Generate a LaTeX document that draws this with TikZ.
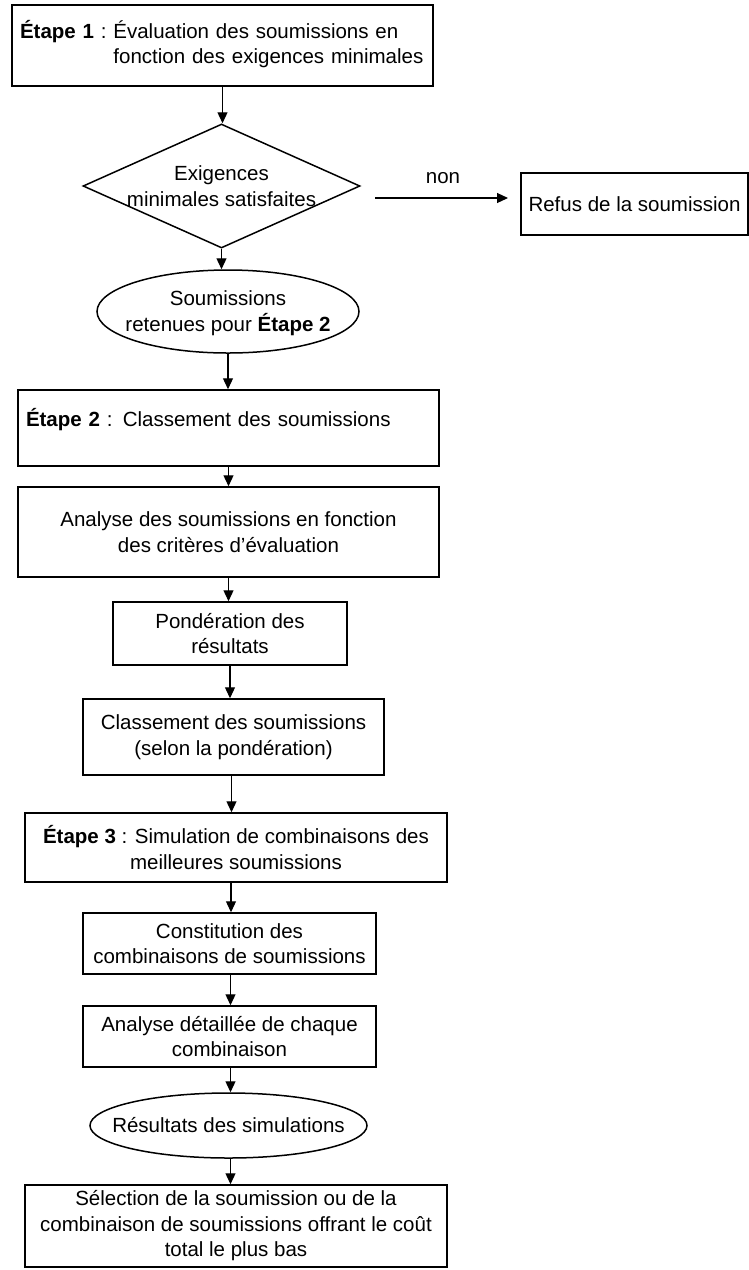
\documentclass[tikz,border=0pt]{standalone}
\usepackage{fontspec}
\setmainfont{Liberation Sans}
\usetikzlibrary{shapes.geometric,arrows.meta}
\begin{document}
\begin{tikzpicture}[x=1pt,y=-1pt,
  every node/.style={font=\fontsize{20.5}{25.5}\selectfont},
  box/.style={draw, line width=1.5pt, rectangle, inner xsep=6pt, inner ysep=0pt, align=center},
  shapeline/.style={draw, line width=1.5pt, inner sep=0pt},
  arr/.style={line width=1.2pt, -{Triangle[length=11pt,width=10pt]}},
  plain/.style={align=center, inner sep=0pt}
]
\useasboundingbox (0,0) rectangle (749,1270);

% Step 1
\node[box, align=left, text width=405pt, minimum height=81pt, inner xsep=8pt] (b1) at (222.5,45.5)
  {\textbf{Étape 1}~:~\begin{tabular}[t]{@{}l@{}}Évaluation des soumissions en\\fonction des exigences minimales\end{tabular}};

% Decision
\node[shapeline, diamond, minimum width=277pt, minimum height=124pt] (dia) at (221.5,186) {};
\node[plain] (diatext) at (221.5,186) {Exigences\\minimales satisfaites};

% Refus
\node[box, minimum width=227pt, minimum height=62pt] (refus) at (634.5,204) {Refus de la soumission};
\coordinate (nonA) at (375,198);
\coordinate (nonB) at (508,198);
\draw[arr] (nonA) -- (nonB);
\node[plain] (nonlbl) at (443,178) {non};

% Ellipse 1
\node[shapeline, ellipse, minimum width=262pt, minimum height=83pt] (ell1) at (228,311.5) {};
\node[plain] (ell1text) at (228,313) {Soumissions\\retenues pour \textbf{Étape 2}};

% Step 2
\node[box, align=left, text width=405pt, minimum height=76pt, inner xsep=8pt, text depth=22pt] (e2) at (228.5,428)
  {\textbf{Étape 2} : Classement des soumissions};
\node[box, minimum width=421pt, minimum height=90pt] (an) at (228.5,532)
  {Analyse des soumissions en fonction\\des critères d'évaluation};
\node[box, minimum width=234pt, minimum height=63pt] (pond) at (230,633.5)
  {Pondération des\\résultats};
\node[box, minimum width=301pt, minimum height=76pt] (cls) at (233.5,737)
  {Classement des soumissions\\(selon la pondération)};

% Step 3
\node[box, minimum width=422pt, minimum height=69pt] (e3) at (236,847.5)
  {\textbf{Étape 3} : Simulation de combinaisons des\\meilleures soumissions};
\node[box, minimum width=293pt, minimum height=61pt] (cons) at (229.5,943.5)
  {Constitution des\\combinaisons de soumissions};
\node[box, minimum width=293pt, minimum height=61pt] (ad) at (229.5,1036.5)
  {Analyse détaillée de chaque\\combinaison};
\node[shapeline, ellipse, minimum width=277pt, minimum height=65pt] (ell2) at (228.5,1125.5) {};
\node[plain] (ell2text) at (228.5,1125.5) {Résultats des simulations};
\node[box, minimum width=422pt, minimum height=82pt] (fin) at (236,1226)
  {Sélection de la soumission ou de la\\combinaison de soumissions offrant le coût\\total le plus bas};

% Connectors
\draw[arr] (b1.south) -- (b1.south |- dia.north);
\draw[arr] (dia.south) -- (dia.south |- ell1.north);
\draw[arr] (ell1.south) -- (ell1.south |- e2.north);
\draw[arr] (e2.south) -- (e2.south |- an.north);
\draw[arr] (an.south) -- (an.south |- pond.north);
\draw[arr] (pond.south) -- (pond.south |- cls.north);
\draw[arr] ([xshift=-2pt]cls.south) -- ([xshift=-2pt]cls.south |- e3.north);
\draw[arr] ([xshift=-5pt]e3.south) -- ([xshift=-5pt]e3.south |- cons.north);
\draw[arr] ([xshift=1pt]cons.south) -- ([xshift=1pt]cons.south |- ad.north);
\draw[arr] ([xshift=1pt]ad.south) -- ([xshift=1pt]ad.south |- ell2.north);
\draw[arr] ([xshift=2pt]ell2.south) -- ([xshift=2pt]ell2.south |- fin.north);
\end{tikzpicture}
\end{document}
